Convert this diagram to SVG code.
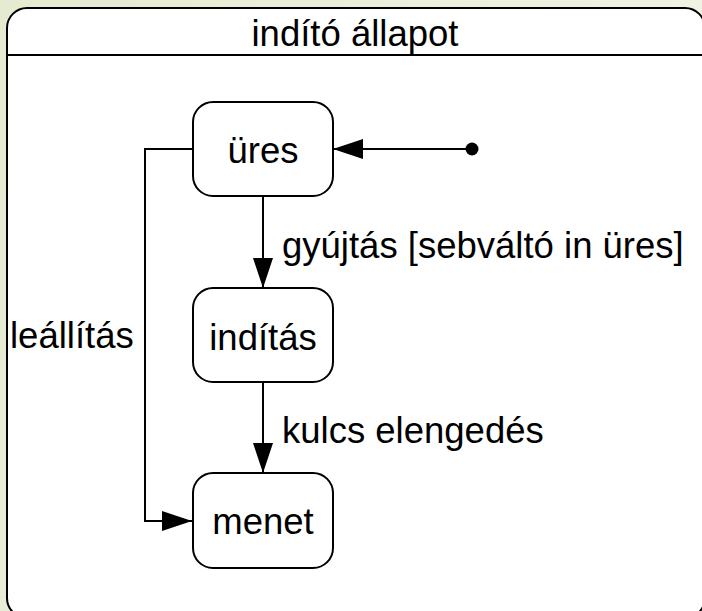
<svg xmlns="http://www.w3.org/2000/svg" width="702" height="611" viewBox="0 0 702 611">
  <defs>
    <linearGradient id="bg" x1="0" y1="0" x2="1" y2="0.3">
      <stop offset="0" stop-color="#e4ebd0"/>
      <stop offset="1" stop-color="#f1f3e6"/>
    </linearGradient>
    <marker id="arrow" viewBox="0 0 30 20" refX="30" refY="10" markerWidth="30" markerHeight="20" markerUnits="userSpaceOnUse" orient="auto">
      <path d="M0,0 L30,10 L0,20 Z" fill="#000"/>
    </marker>
  </defs>
  <style>
    .state { fill: #fff; stroke: #000; stroke-width: 2; }
    .lbl { font-family: "Liberation Sans", Arial, sans-serif; font-size: 36.5px; fill: #000; }
    .mid { text-anchor: middle; }
    .conn { fill: none; stroke: #000; stroke-width: 2; }
  </style>
  <rect x="0" y="0" width="702" height="611" fill="url(#bg)"/>
  <g id="composite">
    <rect x="7" y="8" width="698" height="610" rx="20" ry="20" class="state" stroke-width="2.5"/>
    <line x1="7" y1="55" x2="705" y2="55" stroke="#000" stroke-width="2"/>
    <text x="355" y="46" class="lbl mid">indító állapot</text>
  </g>
  <g id="connectors">
    <line x1="472" y1="149" x2="333" y2="149" class="conn" marker-end="url(#arrow)"/>
    <line x1="263" y1="196" x2="263" y2="288" class="conn" marker-end="url(#arrow)"/>
    <line x1="263" y1="382" x2="263" y2="473" class="conn" marker-end="url(#arrow)"/>
    <polyline points="193,149 145,149 145,521 192,521" class="conn" marker-end="url(#arrow)"/>
    <text x="282" y="258" class="lbl">gyújtás [sebváltó in üres]</text>
    <text x="282" y="443" class="lbl">kulcs elengedés</text>
    <text x="10" y="348" class="lbl">leállítás</text>
  </g>
  <g id="initial">
    <circle cx="472" cy="149" r="6.5" fill="#000"/>
  </g>
  <g id="ures">
    <rect x="193" y="102" width="140" height="94" rx="20" ry="20" class="state"/>
    <text x="263" y="163" class="lbl mid">üres</text>
  </g>
  <g id="inditas">
    <rect x="193" y="288" width="140" height="94" rx="20" ry="20" class="state"/>
    <text x="263" y="350" class="lbl mid">indítás</text>
  </g>
  <g id="menet">
    <rect x="193" y="473" width="140" height="95" rx="20" ry="20" class="state"/>
    <text x="263" y="534" class="lbl mid">menet</text>
  </g>
</svg>
